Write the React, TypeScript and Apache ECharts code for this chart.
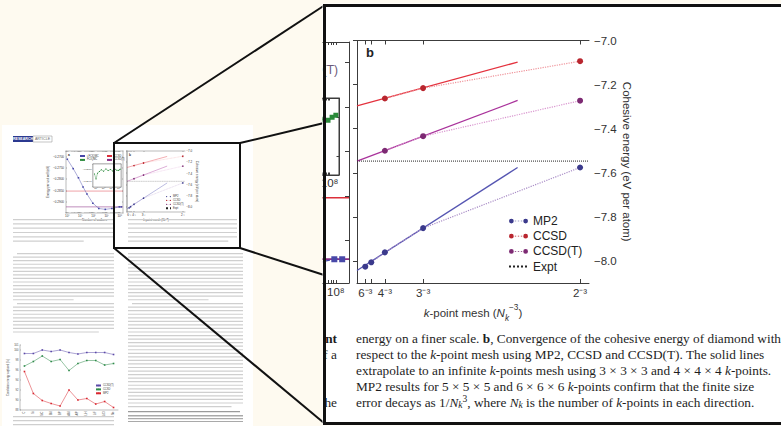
import React, { useEffect, useRef } from 'react';
import * as echarts from 'echarts';

const SANS = "'Liberation Sans', Arial, Helvetica, sans-serif";
const SERIF = "'Liberation Serif', 'Times New Roman', Times, serif";

// ===== Panel b: cohesive energy of diamond vs k-point mesh =====
const kMeshLabels = ['6⁻³', '5⁻³', '4⁻³', '3⁻³', '2⁻³'];
const kMeshValues = [1 / 216, 1 / 125, 1 / 64, 1 / 27, 1 / 8];
const kMeshLabelShown = [true, false, true, true, true];
const mp2Energy = [-8.026, -8.006, -7.961, -7.851, -7.576];
const ccMesh = [1 / 64, 1 / 27, 1 / 8];
const ccsdEnergy = [-7.263, -7.216, -7.094];
const ccsdtEnergy = [-7.5, -7.434, -7.273];
const exptEnergy = -7.547;
const fitMesh = [0, 0.09];
const mp2FitEnergy = [-8.043, -7.576];
const ccsdFitEnergy = [-7.297, -7.098];
const ccsdtFitEnergy = [-7.547, -7.272];
const energyTicks = [-8.0, -7.8, -7.6, -7.4, -7.2, -7.0];
const meshRange = [0, 0.13];
const energyRange = [-8.1, -7.0];

// ===== Panel a: correlation energy vs number of walkers (log10) =====
const walkerRange = [3.9, 8.25];
const walkerDecades = [4, 5, 6, 7, 8];
const walkersLog = [4.0, 4.45, 4.85, 5.2, 5.5, 5.95, 6.4, 6.9, 7.4, 7.97, 8.12];
const ifciqmcEnergy = [-0.2713, -0.2754, -0.2794, -0.2834, -0.2865, -0.2905, -0.2928, -0.2932, -0.2928, -0.2921, -0.2921];
const ccsdRefEnergy = -0.2852;
const ccsdtRefEnergy = -0.2921;
const energyARange = [-0.29478, -0.2677];
const energyATicks = [-0.27, -0.275, -0.28, -0.285, -0.29];
const insetWalkerRange = [4.6, 8.3];
const insetDecades = [5, 6, 7, 8];
const insetWalkersLog = [4.8, 5.0, 5.2, 5.45, 5.7, 6.0, 6.3, 6.6, 6.9, 7.2, 7.5, 7.75, 7.95, 8.08, 8.2];
const fciqmcEnergy = [-0.2915, -0.2932, -0.2912, -0.2906, -0.29, -0.2905, -0.2897, -0.2903, -0.2899, -0.2904, -0.2898, -0.2902, -0.2903, -0.29, -0.2898];
const insetEnergyRange = [-0.296, -0.288];
const insetEnergyTicks = [-0.294, -0.29];

// ===== Figure 2 thumbnail: correlation energy captured (%) =====
const solids = ['C', 'Si', 'SiC', 'BN', 'BP', 'AlN', 'AlP', 'LiH', 'LiF', 'LiCl', 'Ne'];
const fig2CCSDT = [99.3, 99.3, 100.0, 99.7, 100.0, 99.5, 99.2, 99.5, 99.5, 99.5, 99.1];
const fig2CCSD = [96.8, 97.7, 98.8, 97.7, 98.1, 95.9, 97.3, 97.9, 97.9, 97.0, 97.3];
const fig2MP2 = [95.7, 91.3, 89.9, 89.3, 88.8, 92.0, 90.0, 90.3, 89.2, 89.7, 88.5];

// ===== Caption =====
const captionLines = [
  '{r|energy on a finer scale. }{b|b}{r|, Convergence of the cohesive energy of diamond with}',
  '{r|respect to the }{i|k}{r|-point mesh using MP2, CCSD and CCSD(T). The solid lines}',
  '{r|extrapolate to an infinite }{i|k}{r|-points mesh using 3 × 3 × 3 and 4 × 4 × 4 }{i|k}{r|-points.}',
  '{r|MP2 results for 5 × 5 × 5 and 6 × 6 × 6 }{i|k}{r|-points confirm that the finite size}',
  '{r|error decays as 1/}{i|N}{sub|k}{sup|3}{r|, where }{i|N}{sub|k}{r| is the number of }{i|k}{r|-points in each direction.}',
];
const leftFragments = ['nt', 'f a', '', '', 'he'];

const COL = {
  mp2: '#3b3a8c', mp2Fit: '#5656b2', mp2Dot: '#a98cc6',
  ccsd: '#b9262f', ccsdFit: '#e4323e', ccsdDot: '#ef939a',
  ccsdt: '#7d2a73', ccsdtFit: '#a9329b', ccsdtDot: '#d996cf',
  blue: '#4848a8', green: '#2a8a3a', red: '#dc2f3a', purple: '#8a2d86',
};

const zip = (xs: number[], ys: number[]) => xs.map((x, i) => [x, ys[i]]);
const supDigit: Record<number, string> = { 3: '³', 4: '⁴', 5: '⁵', 6: '⁶', 7: '⁷', 8: '⁸' };
const fmtPow = (v: number) => '10' + (supDigit[Math.round(v)] || '');
const fmtMesh = (v: number) => {
  const i = kMeshValues.findIndex((k) => Math.abs(k - v) < 1e-7);
  return i >= 0 ? kMeshLabels[i] : '';
};
const fmtEnergy = (v: number) => (v < 0 ? '−' : '') + Math.abs(v).toFixed(1);
const fmtA = (v: number) => (v < 0 ? '−' : '') + Math.abs(v).toFixed(4);

const logTicks: number[] = [];
for (let n = 3; n <= 8; n++) {
  for (let k = 1; k <= 9; k++) {
    const v = n + Math.log10(k);
    if (v >= walkerRange[0] && v <= walkerRange[1]) logTicks.push(v);
  }
}
const insetLogTicks = logTicks.filter((v) => v >= insetWalkerRange[0] && v <= insetWalkerRange[1]);

const dotIcon =
  'path://M0,4.5a4.5,4.5 0 1,0 9,0a4.5,4.5 0 1,0 -9,0z M27,4.5a4.5,4.5 0 1,0 9,0a4.5,4.5 0 1,0 -9,0z M11,3.8h2.6v1.4h-2.6z M16.7,3.8h2.6v1.4h-2.6z M22.4,3.8h2.6v1.4h-2.6z';

function buildPanelB(grid: number, xb: number, yb: number, big: boolean) {
  const s = big ? 1 : 0.25;
  const fs = big ? 11.5 : 3;
  const lw = big ? 1 : 0.35;
  const axisLine = { show: true, lineStyle: { color: '#3c3c3c', width: lw } };
  const tickStyle = { color: '#3c3c3c', width: lw };
  const labelled = kMeshValues.filter((_, i) => kMeshLabelShown[i]);
  const rich = {
    r: { fontSize: fs, fontFamily: SANS, color: '#333', lineHeight: fs * 1.6 },
    i: { fontSize: fs, fontFamily: SANS, fontStyle: 'italic', color: '#333', lineHeight: fs * 1.6 },
    sub: { fontSize: fs * 0.72, fontFamily: SANS, fontStyle: 'italic', color: '#333', verticalAlign: 'bottom' },
    sup: { fontSize: fs * 0.72, fontFamily: SANS, color: '#333', verticalAlign: 'top' },
  };
  const xAxis = [
    {
      gridIndex: grid, type: 'value', position: 'bottom', min: meshRange[0], max: meshRange[1],
      axisLine, axisTick: { show: true, inside: true, length: 4 * s, customValues: kMeshValues, lineStyle: tickStyle },
      axisLabel: { show: true, customValues: labelled, formatter: fmtMesh, fontSize: fs, fontFamily: SANS, color: '#333', margin: 4 * s },
      splitLine: { show: false },
      name: '{i|k}{r|-point mesh (}{i|N}{sub|k}{sup|−3}{r|)}', nameLocation: 'middle', nameGap: 15 * s,
      nameTextStyle: { rich, fontSize: fs, fontFamily: SANS, color: '#333' },
    },
    {
      gridIndex: grid, type: 'value', position: 'top', min: meshRange[0], max: meshRange[1],
      axisLine, axisTick: { show: true, inside: true, length: 4 * s, customValues: kMeshValues, lineStyle: tickStyle },
      axisLabel: { show: false }, splitLine: { show: false },
    },
  ];
  const yAxis = [
    {
      gridIndex: grid, type: 'value', position: 'right', min: energyRange[0], max: energyRange[1],
      axisLine, axisTick: { show: true, inside: true, length: 4 * s, customValues: energyTicks, lineStyle: tickStyle },
      axisLabel: { show: true, customValues: energyTicks, formatter: fmtEnergy, fontSize: fs, fontFamily: SANS, color: '#333', margin: 5 * s },
      splitLine: { show: false },
      name: 'Cohesive energy (eV per atom)', nameLocation: 'middle', nameRotate: -90, nameGap: 32 * s,
      nameTextStyle: { fontSize: fs, fontFamily: SANS, color: '#333' },
    },
    {
      gridIndex: grid, type: 'value', position: 'left', min: energyRange[0], max: energyRange[1],
      axisLine, axisTick: { show: false }, axisLabel: { show: false }, splitLine: { show: false },
    },
  ];
  const ax = { xAxisIndex: xb, yAxisIndex: yb, silent: true };
  const sym = big ? 6 : 1.6;
  const fitW = big ? 1.3 : 0.4;
  const dotW = big ? 1.2 : 0.4;
  const series = [
    { ...ax, type: 'line', name: 'MP2 fit', data: zip(fitMesh, mp2FitEnergy), symbol: 'none', lineStyle: { color: COL.mp2Fit, width: fitW }, z: 2 },
    { ...ax, type: 'line', name: 'CCSD fit', data: zip(fitMesh, ccsdFitEnergy), symbol: 'none', lineStyle: { color: COL.ccsdFit, width: fitW }, z: 2 },
    { ...ax, type: 'line', name: 'CCSD(T) fit', data: zip(fitMesh, ccsdtFitEnergy), symbol: 'none', lineStyle: { color: COL.ccsdtFit, width: fitW }, z: 2 },
    {
      ...ax, type: 'line', name: 'Expt', data: [[meshRange[0], exptEnergy], [meshRange[1], exptEnergy]], symbol: 'none',
      itemStyle: { color: '#222' }, lineStyle: { color: '#222', width: big ? 1 : 0.35, type: 'dotted' }, z: 2,
    },
    {
      ...ax, type: 'line', name: 'MP2', data: zip(kMeshValues, mp2Energy), symbol: 'circle', symbolSize: sym,
      itemStyle: { color: COL.mp2 }, lineStyle: { color: COL.mp2Dot, width: dotW, type: 'dotted' }, z: 3,
    },
    {
      ...ax, type: 'line', name: 'CCSD', data: zip(ccMesh, ccsdEnergy), symbol: 'circle', symbolSize: sym,
      itemStyle: { color: COL.ccsd }, lineStyle: { color: COL.ccsdDot, width: dotW, type: 'dotted' }, z: 3,
    },
    {
      ...ax, type: 'line', name: 'CCSD(T)', data: zip(ccMesh, ccsdtEnergy), symbol: 'circle', symbolSize: sym,
      itemStyle: { color: COL.ccsdt }, lineStyle: { color: COL.ccsdtDot, width: dotW, type: 'dotted' }, z: 3,
    },
  ];
  return { xAxis, yAxis, series };
}

function buildPanelA(gMain: number, gInset: number, xb: number, yb: number, big: boolean) {
  const s = big ? 1 : 0.25;
  const fs = big ? 11.5 : 3;
  const lw = big ? 1 : 0.35;
  const axisLine = { show: true, lineStyle: { color: '#3c3c3c', width: lw } };
  const tickStyle = { color: '#3c3c3c', width: lw };
  const lab = { fontSize: fs, fontFamily: SANS, color: '#333' };
  const xAxis = [
    {
      gridIndex: gMain, type: 'value', position: 'bottom', min: walkerRange[0], max: walkerRange[1], axisLine,
      axisTick: { show: true, inside: true, length: 3 * s, customValues: logTicks, lineStyle: tickStyle },
      axisLabel: { ...lab, customValues: big ? [8] : walkerDecades, formatter: fmtPow, margin: 3 * s },
      splitLine: { show: false },
      name: big ? '' : 'Number of walkers', nameLocation: 'middle', nameGap: 5, nameTextStyle: lab,
    },
    {
      gridIndex: gMain, type: 'value', position: 'top', min: walkerRange[0], max: walkerRange[1], axisLine,
      axisTick: { show: true, inside: true, length: 3 * s, customValues: logTicks, lineStyle: tickStyle },
      axisLabel: { show: false }, splitLine: { show: false },
    },
    {
      gridIndex: gInset, type: 'value', position: 'bottom', min: insetWalkerRange[0], max: insetWalkerRange[1], axisLine,
      axisTick: { show: true, inside: true, length: 2.5 * s, customValues: insetLogTicks, lineStyle: tickStyle },
      axisLabel: { ...lab, fontSize: big ? 11.5 : 2.4, customValues: big ? [8] : insetDecades, formatter: fmtPow, margin: 2 * s },
      splitLine: { show: false },
    },
    {
      gridIndex: gInset, type: 'value', position: 'top', min: insetWalkerRange[0], max: insetWalkerRange[1], axisLine,
      axisTick: { show: true, inside: true, length: 2.5 * s, customValues: insetLogTicks, lineStyle: tickStyle },
      axisLabel: { show: false }, splitLine: { show: false },
    },
  ];
  const yAxis = [
    {
      gridIndex: gMain, type: 'value', position: 'left', min: energyARange[0], max: energyARange[1], axisLine,
      axisTick: { show: true, inside: true, length: 4 * s, customValues: energyATicks, lineStyle: tickStyle },
      axisLabel: { ...lab, show: !big, customValues: energyATicks, formatter: fmtA, margin: 2 },
      splitLine: { show: false },
      name: big ? '' : 'Energy per unit cell (eV)', nameLocation: 'middle', nameRotate: 90, nameGap: 12,
      nameTextStyle: lab,
    },
    {
      gridIndex: gMain, type: 'value', position: 'right', min: energyARange[0], max: energyARange[1], axisLine,
      axisTick: { show: true, inside: true, length: 4 * s, customValues: energyATicks, lineStyle: tickStyle },
      axisLabel: { show: false }, splitLine: { show: false },
    },
    {
      gridIndex: gInset, type: 'value', position: 'left', min: insetEnergyRange[0], max: insetEnergyRange[1], axisLine,
      axisTick: { show: true, inside: true, length: 2.5 * s, customValues: insetEnergyTicks, lineStyle: tickStyle },
      axisLabel: { ...lab, show: !big, fontSize: 2.4, customValues: insetEnergyTicks, formatter: fmtA, margin: 1.5 },
      splitLine: { show: false },
    },
    {
      gridIndex: gInset, type: 'value', position: 'right', min: insetEnergyRange[0], max: insetEnergyRange[1], axisLine,
      axisTick: { show: true, inside: true, length: 2.5 * s, customValues: insetEnergyTicks, lineStyle: tickStyle },
      axisLabel: { show: false }, splitLine: { show: false },
    },
  ];
  const main = { xAxisIndex: xb, yAxisIndex: yb, silent: true };
  const ins = { xAxisIndex: xb + 2, yAxisIndex: yb + 2, silent: true };
  const lwS = big ? 1.3 : 0.45;
  const sp = big ? '' : ' ';
  const series = [
    {
      ...main, type: 'line', name: 'CCSD' + sp, data: [[walkerRange[0], ccsdRefEnergy], [walkerRange[1], ccsdRefEnergy]],
      symbol: 'none', itemStyle: { color: COL.red }, lineStyle: { color: COL.red, width: lwS }, z: 2,
    },
    {
      ...main, type: 'line', name: 'CCSD(T)' + sp, data: [[walkerRange[0], ccsdtRefEnergy], [walkerRange[1], ccsdtRefEnergy]],
      symbol: 'none', itemStyle: { color: COL.purple }, lineStyle: { color: COL.purple, width: big ? 1.6 : 0.55 }, z: 2,
    },
    {
      ...main, type: 'line', name: 'i-FCIQMC', data: zip(walkersLog, ifciqmcEnergy), symbol: 'rect', symbolSize: big ? 6 : 1.6,
      itemStyle: { color: COL.blue }, lineStyle: { color: COL.blue, width: lwS, type: big ? 'dashed' : 'solid' }, z: 3,
    },
    {
      ...ins, type: 'line', name: 'FCIQMC', data: zip(insetWalkersLog, fciqmcEnergy), symbol: 'rect', symbolSize: big ? 5 : 1,
      itemStyle: { color: COL.green }, lineStyle: { color: COL.green, width: big ? 1.2 : 0.4 }, z: 4,
    },
  ];
  return { xAxis, yAxis, series };
}

function buildFig2(grid: number, xb: number, yb: number) {
  const lab = { fontSize: 2.6, fontFamily: SANS, color: '#444' };
  const xAxis = [
    {
      gridIndex: grid, type: 'category', data: solids, boundaryGap: true,
      axisLine: { lineStyle: { color: '#444', width: 0.35 } },
      axisTick: { inside: true, length: 1, lineStyle: { width: 0.3 } },
      axisLabel: { ...lab, rotate: 90, interval: 0, margin: 1.5 },
    },
  ];
  const yAxis = [
    {
      gridIndex: grid, type: 'value', min: 88, max: 101, interval: 2,
      axisLine: { show: true, lineStyle: { color: '#444', width: 0.35 } },
      axisTick: { show: true, inside: true, length: 1, lineStyle: { width: 0.3 } },
      axisLabel: { ...lab, margin: 1.5 },
      splitLine: { show: false },
      name: 'Correlation energy captured (%)', nameLocation: 'middle', nameRotate: 90, nameGap: 7, nameTextStyle: lab,
    },
  ];
  const ax = { xAxisIndex: xb, yAxisIndex: yb, silent: true, symbolSize: 1.6 };
  const series = [
    { ...ax, type: 'line', name: 'CCSD(T)  ', data: fig2CCSDT, symbol: 'rect', itemStyle: { color: '#5b4aa8' }, lineStyle: { color: '#5b4aa8', width: 0.5 } },
    { ...ax, type: 'line', name: 'CCSD  ', data: fig2CCSD, symbol: 'rect', itemStyle: { color: '#2e8b4a' }, lineStyle: { color: '#2e8b4a', width: 0.5 } },
    { ...ax, type: 'line', name: 'MP2  ', data: fig2MP2, symbol: 'rect', itemStyle: { color: '#d8262f' }, lineStyle: { color: '#d8262f', width: 0.5 } },
  ];
  return { xAxis, yAxis, series };
}

function paragraph(x: number, y: number, w: number, n: number, gap: number, indent = 0, lastFrac = 0.6, fill = '#cfcfcf') {
  const els: any[] = [];
  for (let i = 0; i < n; i++) {
    const ix = i === 0 ? indent : 0;
    const width = (i === n - 1 ? w * lastFrac : w) - ix;
    els.push({ type: 'rect', silent: true, z: 1, shape: { x: x + ix, y: y + i * gap, width, height: 1.2 }, style: { fill } });
  }
  return els;
}

function buildPageOption() {
  const pa = buildPanelA(0, 1, 0, 0, false);
  const pb = buildPanelB(2, 4, 4, false);
  const f2 = buildFig2(3, 6, 6);
  const tinyLegend = (data: any[], left: number, top: number, font = 2.6) => ({
    data, left, top, orient: 'vertical', itemWidth: 5, itemHeight: 1.6, itemGap: 0.9, padding: 0, selectedMode: false,
    textStyle: { fontSize: font, fontFamily: SANS, color: '#333', padding: [0, 0, 0, -3] },
  });
  const lineEl = (x1: number, y1: number, x2: number, y2: number) => ({
    type: 'line', silent: true, z: 100, shape: { x1, y1, x2, y2 }, style: { stroke: '#111', lineWidth: 2 },
  });
  const elements: any[] = [
    { type: 'rect', silent: true, z: 0, shape: { x: 2, y: 125, width: 251, height: 301 }, style: { fill: '#ffffff' } },
    { type: 'rect', silent: true, z: 1, shape: { x: 13, y: 136, width: 20, height: 6 }, style: { fill: '#2b3990' } },
    { type: 'text', silent: true, z: 2, x: 23, y: 139, style: { text: 'RESEARCH', fill: '#fff', fontSize: 3.6, fontWeight: 'bold', fontFamily: SANS, align: 'center', verticalAlign: 'middle' } },
    { type: 'rect', silent: true, z: 1, shape: { x: 33, y: 136, width: 19, height: 6 }, style: { fill: '#fff', stroke: '#888', lineWidth: 0.5 } },
    { type: 'text', silent: true, z: 2, x: 42.5, y: 139, style: { text: 'ARTICLE', fill: '#666', fontSize: 3.6, fontFamily: SANS, align: 'center', verticalAlign: 'middle' } },
    { type: 'text', silent: true, z: 2, x: 68, y: 155, style: { text: 'a', fill: '#222', fontSize: 3.2, fontWeight: 'bold', fontFamily: SANS, verticalAlign: 'middle' } },
    { type: 'text', silent: true, z: 2, x: 129, y: 155, style: { text: 'b', fill: '#222', fontSize: 3.2, fontWeight: 'bold', fontFamily: SANS, verticalAlign: 'middle' } },
    ...paragraph(13, 219, 101, 6, 4.3, 0, 0.7),
    ...paragraph(128, 219, 109, 6, 4.3, 0, 0.92),
    ...paragraph(13, 253, 101, 14, 3.55, 4, 0.6),
    ...paragraph(13, 303, 101, 9, 3.55, 4, 0.85),
    ...paragraph(13, 416, 101, 3, 4, 0, 1),
    ...paragraph(128, 253, 115, 14, 3.55, 0, 0.7),
    ...paragraph(128, 303, 115, 30, 3.55, 4, 0.9),
    ...paragraph(128, 411, 112, 1, 3, 0, 1, '#9a9a9a'),
    { type: 'rect', silent: true, z: 1, shape: { x: 128, y: 415.5, width: 115, height: 0.8 }, style: { fill: '#555' } },
    ...paragraph(128, 418, 115, 1, 3, 0, 1, '#aaaaaa'),
    { type: 'rect', silent: true, z: 1, shape: { x: 128, y: 421.5, width: 115, height: 0.6 }, style: { fill: '#555' } },
    // zoom call-out
    { type: 'rect', silent: true, z: 100, shape: { x: 114, y: 143, width: 126, height: 105 }, style: { fill: 'none', stroke: '#111', lineWidth: 2 } },
    lineEl(114, 143, 325, 5),
    lineEl(240, 143, 324, 123),
    lineEl(240, 248, 324, 275),
    lineEl(114, 248, 324, 423),
  ];
  return {
    animation: false,
    backgroundColor: 'transparent',
    grid: [
      { left: 66, top: 151, width: 57, height: 62 },
      { left: 93, top: 164, width: 28, height: 23, show: true, backgroundColor: '#fff', borderColor: '#3c3c3c', borderWidth: 0.35, z: 3 },
      { left: 127, top: 151, width: 58, height: 61 },
      { left: 20, top: 345, width: 98, height: 65, show: true, borderColor: '#555', borderWidth: 0.35, backgroundColor: 'transparent' },
    ],
    xAxis: [...pa.xAxis, ...pb.xAxis, ...f2.xAxis],
    yAxis: [...pa.yAxis, ...pb.yAxis, ...f2.yAxis],
    series: [...pa.series, ...pb.series, ...f2.series],
    legend: [
      tinyLegend([{ name: 'MP2', icon: dotIcon }, { name: 'CCSD', icon: dotIcon }, { name: 'CCSD(T)', icon: dotIcon }, { name: 'Expt', itemStyle: { opacity: 0 } }], 165, 195),
      tinyLegend([{ name: 'i-FCIQMC' }, { name: 'FCIQMC' }], 79, 154.5),
      tinyLegend([{ name: 'CCSD ' }, { name: 'CCSD(T) ' }], 106, 154.5),
      tinyLegend([{ name: 'CCSD(T)  ' }, { name: 'CCSD  ' }, { name: 'MP2  ' }], 95, 384),
    ],
    graphic: { elements },
  };
}

function buildZoomOption() {
  const pb = buildPanelB(0, 0, 0, true);
  const pa = buildPanelA(1, 2, 2, 2, true);
  const CF = 13.3;
  const captionRich = {
    r: { fontFamily: SERIF, fontSize: CF, fill: '#1e1e1e', lineHeight: 16 },
    b: { fontFamily: SERIF, fontSize: CF, fill: '#1e1e1e', fontWeight: 'bold', lineHeight: 16 },
    i: { fontFamily: SERIF, fontSize: CF, fill: '#1e1e1e', fontStyle: 'italic', lineHeight: 16 },
    sub: { fontFamily: SERIF, fontSize: 9.5, fill: '#1e1e1e', fontStyle: 'italic', verticalAlign: 'bottom' },
    sup: { fontFamily: SERIF, fontSize: 9.5, fill: '#1e1e1e', verticalAlign: 'top' },
  };
  const captionY = [338, 354, 370, 386, 402];
  const elements: any[] = [];
  captionLines.forEach((t, i) => {
    elements.push({
      type: 'text', silent: true, z: 5, x: 356, y: captionY[i],
      style: { text: t, rich: captionRich, fontFamily: SERIF, fontSize: CF, fill: '#1e1e1e', verticalAlign: 'middle' },
    });
    if (leftFragments[i]) {
      elements.push({
        type: 'text', silent: true, z: 5, x: 337, y: captionY[i],
        style: { text: leftFragments[i], fontFamily: SERIF, fontSize: CF, fill: '#1e1e1e', fontWeight: i === 0 ? 'bold' : 'normal', align: 'right', verticalAlign: 'middle' },
      });
    }
  });
  elements.push(
    { type: 'text', silent: true, z: 5, x: 366, y: 52, style: { text: 'b', fontFamily: SANS, fontSize: 13, fontWeight: 'bold', fill: '#222', verticalAlign: 'middle' } },
    { type: 'text', silent: true, z: 5, x: 338, y: 70, style: { text: 'CCSD(T)', fontFamily: SANS, fontSize: 12, fill: '#6a5a78', align: 'right', verticalAlign: 'middle' } },
    { type: 'rect', silent: true, z: 100, shape: { x: 324.5, y: 5.5, width: 600, height: 418 }, style: { fill: 'none', stroke: '#111', lineWidth: 3 } },
  );
  return {
    animation: false,
    backgroundColor: 'transparent',
    grid: [
      { left: 357, top: 40.5, width: 232, height: 242.5 },
      { left: 121, top: 42, width: 228, height: 241 },
      { left: 223, top: 98, width: 116, height: 77, show: true, backgroundColor: '#fff', borderColor: '#3c3c3c', borderWidth: 1 },
    ],
    xAxis: [...pb.xAxis, ...pa.xAxis],
    yAxis: [...pb.yAxis, ...pa.yAxis],
    series: [...pb.series, ...pa.series],
    legend: {
      data: [{ name: 'MP2', icon: dotIcon }, { name: 'CCSD', icon: dotIcon }, { name: 'CCSD(T)', icon: dotIcon }, { name: 'Expt', itemStyle: { opacity: 0 } }],
      orient: 'vertical', left: 508, top: 215, itemWidth: 19, itemHeight: 5, itemGap: 3.2, padding: 0, selectedMode: false,
      textStyle: { fontSize: 12, fontFamily: SANS, color: '#222' },
    },
    graphic: { elements },
  };
}

export default function App() {
  const refA = useRef<HTMLDivElement>(null);
  const refB = useRef<HTMLDivElement>(null);
  useEffect(() => {
    const a = echarts.init(refA.current!, null, { renderer: 'svg' });
    const b = echarts.init(refB.current!, null, { renderer: 'svg' });
    a.setOption(buildPageOption() as any);
    b.setOption(buildZoomOption() as any);
    return () => {
      a.dispose();
      b.dispose();
    };
  }, []);
  return (
    <div style={{ position: 'fixed', left: 0, top: 0, width: 781, height: 426, background: '#fefaf0', overflow: 'hidden' }}>
      <div ref={refA} style={{ position: 'absolute', left: 0, top: 0, width: 781, height: 426 }} />
      <div
        ref={refB}
        style={{ position: 'absolute', left: 0, top: 0, width: 781, height: 426, background: '#ffffff', clipPath: 'inset(3.5px 0px 0.5px 322.5px)' }}
      />
    </div>
  );
}
